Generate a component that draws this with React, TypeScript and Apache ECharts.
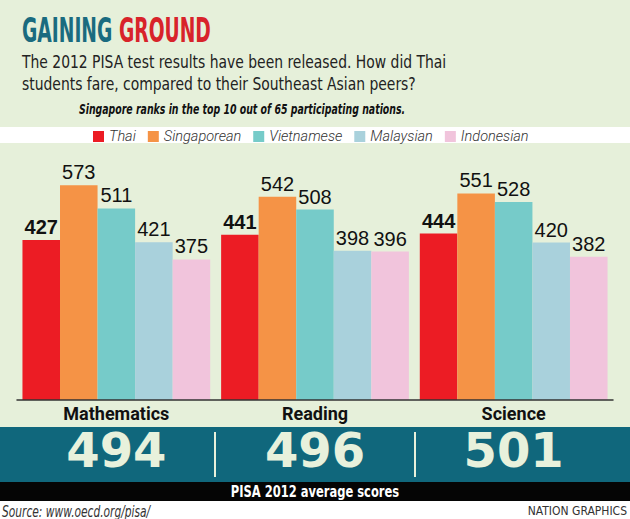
import React, { useEffect, useRef } from "react";
import * as echarts from "echarts";

const subjects = ["Mathematics", "Reading", "Science"];
const seriesNames = ["Thai", "Singaporean", "Vietnamese", "Malaysian", "Indonesian"];
const thai = [427, 441, 444];
const singaporean = [573, 542, 551];
const vietnamese = [511, 508, 528];
const malaysian = [421, 398, 420];
const indonesian = [375, 396, 382];
const averages = [494, 496, 501];
const seriesColors = ["#ec1c24", "#f59346", "#76cbc9", "#a9d1dc", "#f1c4dc"];

const BG = "#e6f0da";
const DV = "'DejaVu Sans', sans-serif";
const DVC = "'DejaVu Sans Condensed', 'DejaVu Sans', sans-serif";
const LIB = "'Liberation Sans', Arial, sans-serif";

export default function App() {
  const ref = useRef<HTMLDivElement>(null);
  useEffect(() => {
    document.body.style.margin = "0";
    if (!ref.current) return;
    const chart = echarts.init(ref.current, undefined, { renderer: "svg" });
    const values = [thai, singaporean, vietnamese, malaysian, indonesian];
    const series = seriesNames.map((name, i) => ({
      name,
      type: "bar",
      data: values[i],
      barGap: "0%",
      barCategoryGap: "5.5%",
      itemStyle: { color: seriesColors[i] },
      label: {
        show: true,
        position: "top",
        distance: 3,
        fontFamily: LIB,
        fontSize: 20,
        fontWeight: i === 0 ? "bold" : "normal",
        color: "#111",
      },
    }));
    chart.setOption({
      animation: false,
      backgroundColor: BG,
      grid: { left: 17, right: 17, top: 175, bottom: 119 },
      legend: {
        data: seriesNames,
        left: 93,
        top: 129,
        padding: 0,
        icon: "rect",
        itemWidth: 11,
        itemHeight: 11,
        itemGap: 12,
        textStyle: {
          fontFamily: "Roboto, sans-serif",
          fontStyle: "italic",
          fontWeight: 300,
          fontSize: 14.5,
          color: "#333",
        },
      },
      xAxis: {
        type: "category",
        data: subjects,
        z: 10,
        axisLine: { lineStyle: { color: "#333", width: 1.5 } },
        axisTick: { show: false },
        axisLabel: {
          margin: 4,
          interval: 0,
          formatter: (v: string, idx: number) => `{cat|${v}}\n{avg|${averages[idx]}}`,
          rich: {
            cat: {
              fontFamily: "Roboto, sans-serif",
              fontWeight: "bold",
              fontSize: 18,
              lineHeight: 18,
              color: "#111",
            },
            avg: {
              fontFamily: DV,
              fontWeight: "bold",
              fontSize: 48,
              lineHeight: 56,
              color: "#e8f1dc",
            },
          },
        },
      },
      yAxis: { type: "value", min: 0, max: 600, show: false },
      series,
      graphic: [
        { type: "rect", z: 0, shape: { x: 0, y: 127, width: 630, height: 16 }, style: { fill: "#ffffff" } },
        { type: "rect", z: 0, shape: { x: 0, y: 427, width: 630, height: 55 }, style: { fill: "#10677c" } },
        { type: "rect", z: 0, shape: { x: 0, y: 482, width: 630, height: 19 }, style: { fill: "#050505" } },
        { type: "rect", z: 0, shape: { x: 0, y: 501, width: 630, height: 18 }, style: { fill: "#ffffff" } },
        { type: "line", z: 1, shape: { x1: 215, y1: 432, x2: 215, y2: 477 }, style: { stroke: "#e8f1dc", lineWidth: 2 } },
        { type: "line", z: 1, shape: { x1: 415, y1: 432, x2: 415, y2: 477 }, style: { stroke: "#e8f1dc", lineWidth: 2 } },
        {
          type: "text",
          z: 1,
          x: 22,
          y: 31,
          scaleX: 0.63,
          style: {
            text: "{a|GAINING }{b|GROUND}",
            textVerticalAlign: "middle",
            rich: {
              a: { fontFamily: DVC, fontWeight: "bold", fontSize: 33, fill: "#1a6b7f" },
              b: { fontFamily: DVC, fontWeight: "bold", fontSize: 33, fill: "#d8232a" },
            },
          },
        },
        {
          type: "text",
          z: 1,
          x: 22,
          y: 62,
          scaleX: 0.86,
          style: {
            text: "The 2012 PISA test results have been released. How did Thai",
            font: `18px ${DVC}`,
            fill: "#222",
            textVerticalAlign: "middle",
          },
        },
        {
          type: "text",
          z: 1,
          x: 22,
          y: 84,
          scaleX: 0.86,
          style: {
            text: "students fare, compared to their Southeast Asian peers?",
            font: `18px ${DVC}`,
            fill: "#222",
            textVerticalAlign: "middle",
          },
        },
        {
          type: "text",
          z: 1,
          x: 242,
          y: 109,
          scaleX: 0.745,
          style: {
            text: "Singapore ranks in the top 10 out of 65 participating nations.",
            font: `italic bold 14px ${DVC}`,
            fill: "#111",
            textAlign: "center",
            textVerticalAlign: "middle",
          },
        },
        {
          type: "text",
          z: 1,
          x: 315,
          y: 491.5,
          scaleX: 0.8,
          style: {
            text: "PISA 2012 average scores",
            font: `bold 16px ${DVC}`,
            fill: "#ffffff",
            textAlign: "center",
            textVerticalAlign: "middle",
          },
        },
        {
          type: "text",
          z: 1,
          x: 2,
          y: 511,
          scaleX: 0.79,
          style: {
            text: "Source: www.oecd.org/pisa/",
            font: `italic 15px ${DVC}`,
            fill: "#333",
            textVerticalAlign: "middle",
          },
        },
        {
          type: "text",
          z: 1,
          x: 627,
          y: 511,
          style: {
            text: "NATION GRAPHICS",
            font: `12px ${DVC}`,
            fill: "#333",
            textAlign: "right",
            textVerticalAlign: "middle",
          },
        },
      ],
    });
    return () => chart.dispose();
  }, []);
  return <div ref={ref} style={{ width: 630, height: 519 }} />;
}
